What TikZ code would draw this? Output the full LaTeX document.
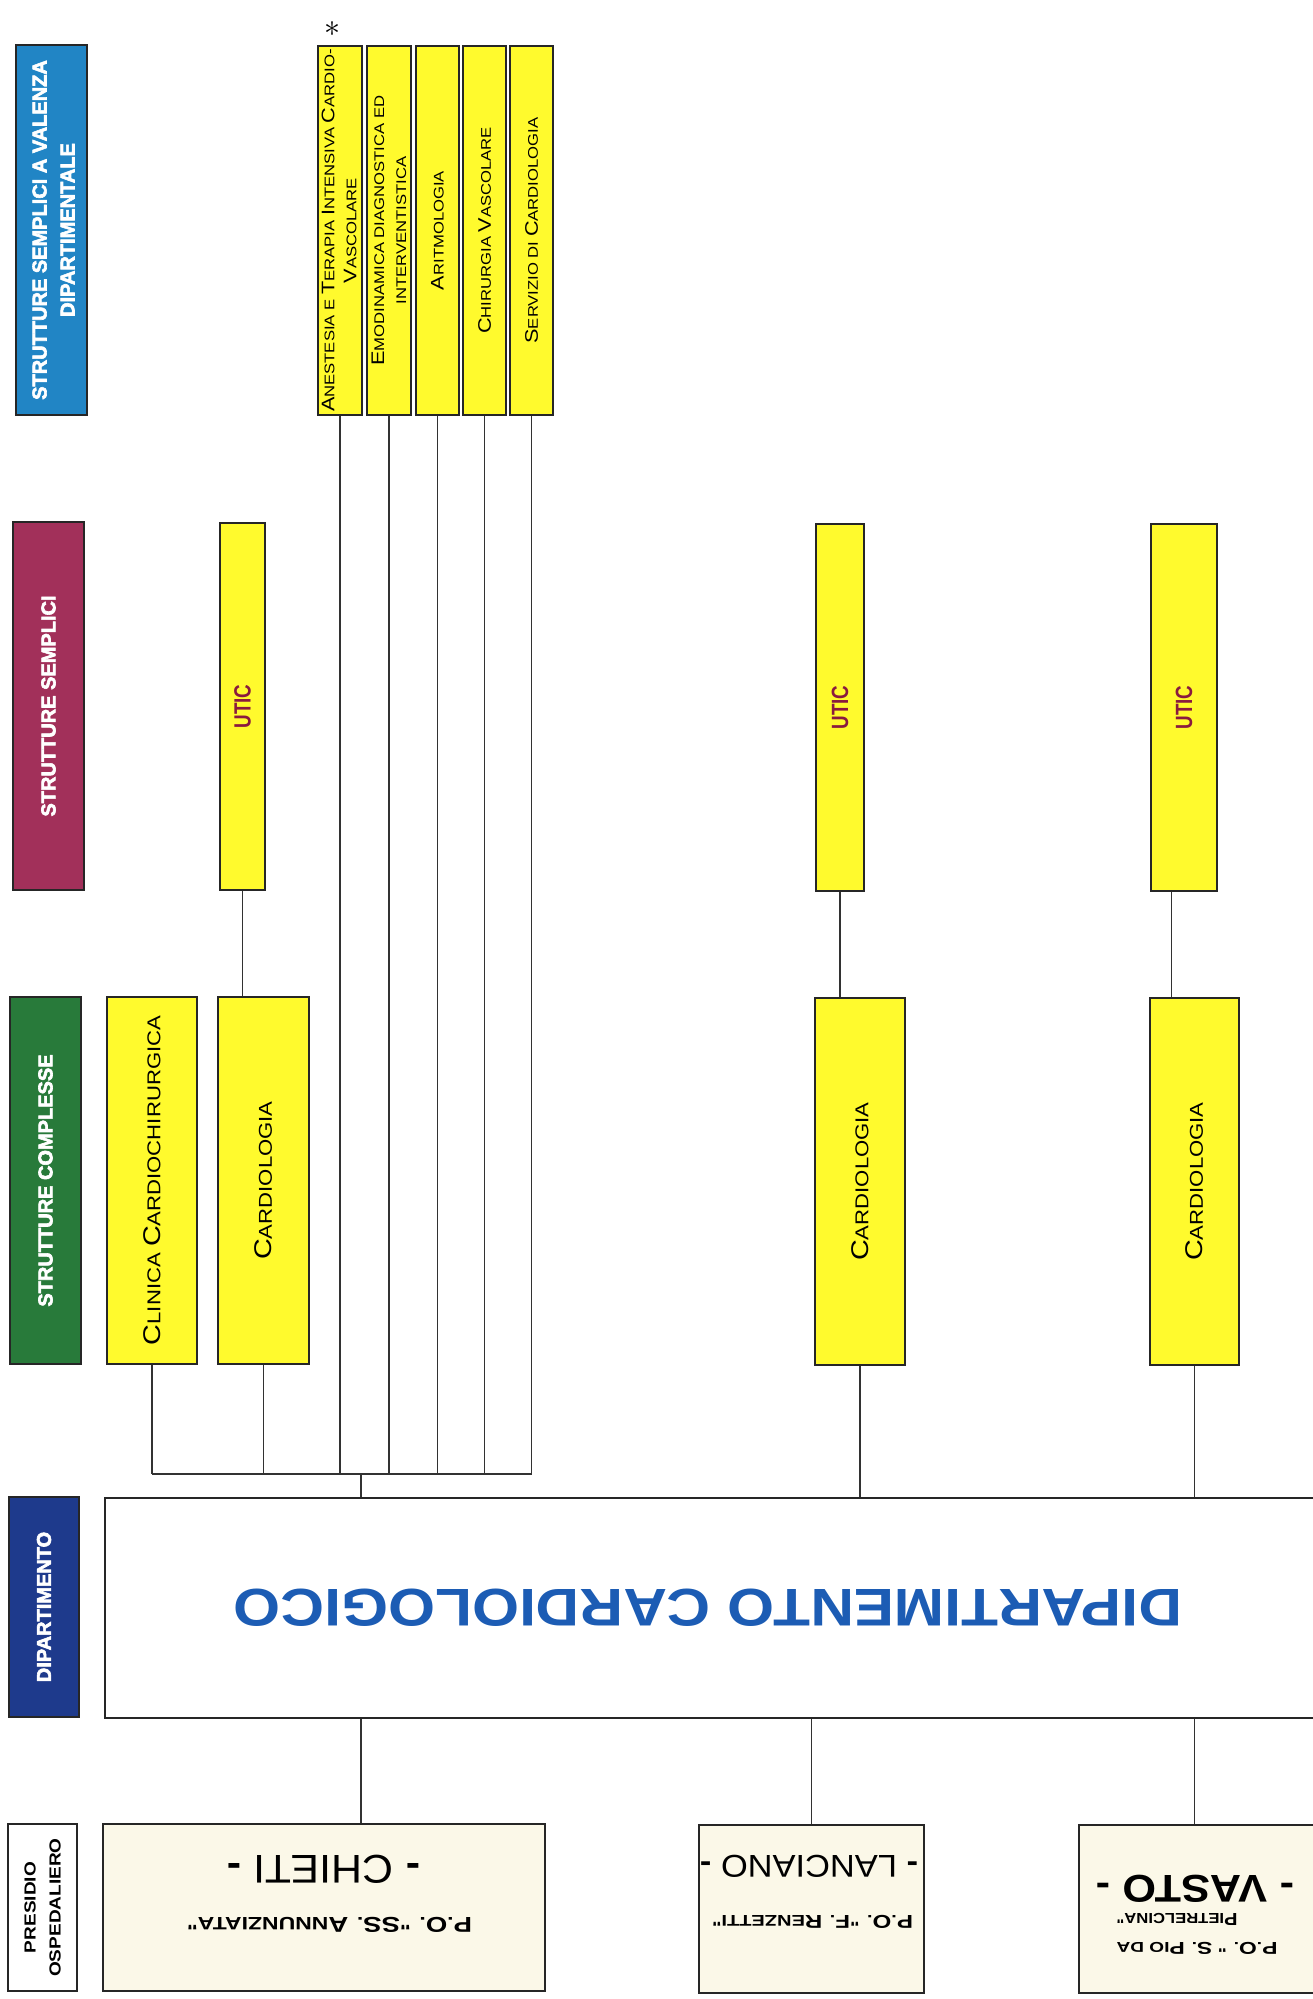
\documentclass[tikz,border=0pt]{standalone}
\usepackage{fontspec}
\usepackage{graphicx}
\setmainfont{Liberation Sans}
\newfontfamily\wf[FakeStretch=1.19, Ligatures=TeXOff]{Liberation Sans}
\newfontfamily\nf[FakeStretch=0.8]{Liberation Sans}
\newfontfamily\hf[FakeBold=3]{Liberation Sans Bold}
\usetikzlibrary{calc,fit}
\definecolor{hblue}{RGB}{33,133,197}
\definecolor{hmaroon}{RGB}{162,48,90}
\definecolor{hgreen}{RGB}{40,122,58}
\definecolor{hdblue}{RGB}{30,58,140}
\definecolor{ybox}{RGB}{255,250,45}
\definecolor{cream}{RGB}{251,248,232}
\definecolor{uticred}{RGB}{138,26,62}
\definecolor{dtext}{RGB}{28,92,180}
\definecolor{lnk}{RGB}{50,50,50}
\newcommand\Bg[1]{\scalebox{1.3}{#1}}
\newcommand\Bh[1]{\scalebox{1.2}{#1}}
\tikzset{
  frame/.style={draw=black!85, line width=1.5pt, inner sep=0pt},
  ybx/.style={frame, fill=ybox},
  cbx/.style={frame, fill=cream},
  lbl/.style={rotate=90, inner sep=0pt, align=center},
  hdrtext/.style={lbl, text=white, font=\hf\fontsize{20}{28}\selectfont},
  toptext/.style={lbl, font=\wf\fontsize{14}{22}\selectfont},
  cpxtext/.style={lbl, font=\wf\fontsize{18.6}{24}\selectfont},
  utictext/.style={lbl, text=uticred, font=\nf\bfseries\fontsize{23.5}{23.5}\selectfont},
  updown/.style={rotate=180, inner sep=0pt, align=center},
  link/.style={draw=lnk, line width=1.2pt},
}
\begin{document}
\begin{tikzpicture}[x=1pt,y=-1pt]
\useasboundingbox (0,0) rectangle (1313,1999);
\clip (0,0) rectangle (1313,1999);
\fill[white] (0,0) rectangle (1313,1999);

% ---- header column
\node[frame, fill=hblue, fit={(16,45) (87,415)}] (hA) {};
\node[hdrtext] (hAt) at ($(hA.center)+(2,0)$) {STRUTTURE SEMPLICI A VALENZA\\DIPARTIMENTALE};
\node[frame, fill=hmaroon, fit={(13,522) (84,890)}] (hB) {};
\node[hdrtext] (hBt) at (hB.center) {STRUTTURE SEMPLICI};
\node[frame, fill=hgreen, fit={(10,997) (81,1364)}] (hC) {};
\node[hdrtext] (hCt) at (hC.center) {STRUTTURE COMPLESSE};
\node[frame, fill=hdblue, fit={(9,1497) (79,1717)}] (hD) {};
\node[hdrtext] (hDt) at (hD.center) {DIPARTIMENTO};
\node[frame, fill=white, fit={(8,1824) (77,1991)}] (hE) {};
\node[lbl, font=\wf\bfseries\fontsize{16}{25}\selectfont] (hEt) at (hE.center) {PRESIDIO\\OSPEDALIERO};

% ---- strutture semplici a valenza dipartimentale
\node[ybx, fit={(318,46) (362,415)}] (s1) {};
\node[ybx, fit={(367,46) (411,415)}] (s2) {};
\node[ybx, fit={(416,46) (459,415)}] (s3) {};
\node[ybx, fit={(463,46) (506,415)}] (s4) {};
\node[ybx, fit={(510,46) (553,415)}] (s5) {};
\node[toptext] (s1t) at ($(s1.center)+(-1,0)$) {\Bg{A}NESTESIA E \Bg{T}ERAPIA \Bg{I}NTENSIVA \Bg{C}ARDIO-\\\Bg{V}ASCOLARE};
\node[toptext] (s2t) at (s2.center) {\Bg{E}MODINAMICA DIAGNOSTICA ED\\INTERVENTISTICA};
\node[toptext] (s3t) at (s3.center) {\Bg{A}RITMOLOGIA};
\node[toptext] (s4t) at (s4.center) {\Bg{C}HIRURGIA \Bg{V}ASCOLARE};
\node[toptext] (s5t) at (s5.center) {\Bg{S}ERVIZIO DI \Bg{C}ARDIOLOGIA};
\node[inner sep=0pt] (star) at (332,29) {\resizebox{16pt}{!}{$\ast$}};

% ---- strutture semplici (UTIC)
\node[ybx, fit={(220,523) (265,890)}] (u1) {};
\node[ybx, fit={(816,524) (864,891)}] (u2) {};
\node[ybx, fit={(1151,524) (1217,891)}] (u3) {};
\node[utictext] (u1t) at (u1.center) {UTIC};
\node[utictext] (u2t) at (u2.center) {UTIC};
\node[utictext] (u3t) at (u3.center) {UTIC};

% ---- strutture complesse
\node[ybx, fit={(107,997) (197,1364)}] (c0) {};
\node[ybx, fit={(218,997) (309,1364)}] (c1) {};
\node[ybx, fit={(815,998) (905,1365)}] (c2) {};
\node[ybx, fit={(1150,998) (1239,1365)}] (c3) {};
\node[cpxtext] (c0t) at (c0.center) {\Bg{C}LINICA \Bg{C}ARDIOCHIRURGICA};
\node[cpxtext] (c1t) at (c1.center) {\Bg{C}ARDIOLOGIA};
\node[cpxtext] (c2t) at (c2.center) {\Bg{C}ARDIOLOGIA};
\node[cpxtext] (c3t) at (c3.center) {\Bg{C}ARDIOLOGIA};

% ---- dipartimento
\node[frame, fill=white, fit={(105,1498) (1315,1718)}] (dept) {};
\node[updown, text=dtext] (deptt) at (708,1608) {\resizebox{948pt}{37pt}{\wf\bfseries DIPARTIMENTO CARDIOLOGICO}};

% ---- presidi ospedalieri
\node[cbx, fit={(103,1824) (545,1991)}] (chieti) {};
\node[cbx, fit={(699,1825) (924,1993)}] (lanc) {};
\node[cbx, fit={(1079,1825) (1315,1993)}] (vasto) {};
\node[updown] (chN) at (323.5,1869) {\resizebox{193pt}{28pt}{\wf{\bfseries -} CHIETI {\bfseries -}}};
\node[updown] (chP) at (329.5,1924.5) {\resizebox{285pt}{15pt}{\wf\bfseries \Bh{P}.\Bh{O}. "\Bh{S}\Bh{S}. \Bh{A}NNUNZIATA"}};
\node[updown] (lnN) at (809,1866) {\resizebox{218pt}{22pt}{\wf{\bfseries -} LANCIANO {\bfseries -}}};
\node[updown] (lnP) at (812.5,1921.5) {\resizebox{201pt}{13pt}{\wf\bfseries \Bh{P}.\Bh{O}. "\Bh{F}. \Bh{R}ENZETTI"}};
\node[updown] (vaN) at (1195,1888.5) {\resizebox{198pt}{27pt}{\wf\bfseries - VASTO -}};
\node[updown, align=right, font=\fontsize{12}{29}\selectfont] (vaP) at (1197,1933.5) {\resizebox{161pt}{12pt}{\wf\bfseries \Bh{P}.\Bh{O}. " \Bh{S}. \Bh{P}IO DA}\\\resizebox{121pt}{12pt}{\wf\bfseries \Bh{P}IETRELCINA"}};

% ---- connectors
\coordinate (bus) at (0,1474);
\coordinate (jx) at (361,1474);
\foreach \n in {s1,s2,s3,s4,s5,c0,c1}{
  \draw[link] (\n.south) -- (\n.south |- bus);
}
\draw[link] (c0.south |- bus) -- (s5.south |- bus);
\draw[link] (jx) -- (jx |- dept.north);
\draw[link] (jx |- dept.south) -- (jx |- chieti.north);
\draw[link] (u1.south) -- (u1.south |- c1.north);
\draw[link] (u2.south) -- (u2.south |- c2.north);
\coordinate (u3x) at ($(u3.south west)!0.32!(u3.south east)$);
\draw[link] (u3x) -- (u3x |- c3.north);
\draw[link] (c2.south) -- (c2.south |- dept.north);
\draw[link] (c3.south) -- (c3.south |- dept.north);
\draw[link] (lanc.north) -- (lanc.north |- dept.south);
\draw[link] (c3.south |- dept.south) -- (c3.south |- vasto.north);
\end{tikzpicture}
\end{document}
